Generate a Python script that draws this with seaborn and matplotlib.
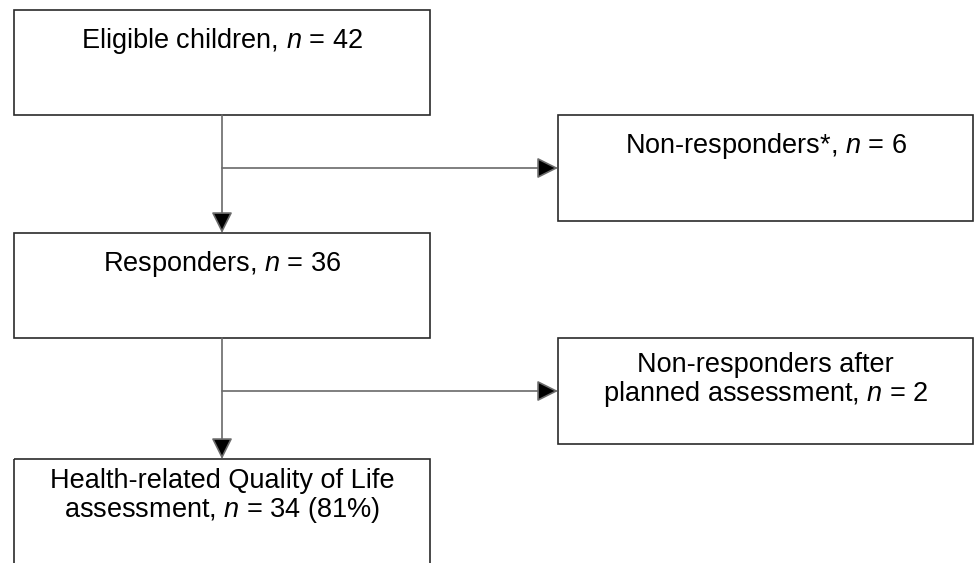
import seaborn as sns
import matplotlib.pyplot as plt
from matplotlib.patches import Rectangle

# ---------- DATA ----------
stages = [
    ["Eligible children"],
    ["Non-responders*"],
    ["Responders"],
    ["Non-responders after", "planned assessment"],
    ["Health-related Quality of Life", "assessment"],
]
counts = [42, 6, 36, 2, 34]
suffixes = ["", "", "", "", " (81%)"]

# ---------- LAYOUT (pixels, y down) ----------
# box: left, top, right, bottom
boxes = [
    (14, 10, 430, 115),
    (558, 115, 973, 221),
    (14, 233, 430, 338),
    (558, 338, 973, 444),
    (14, 459, 430, 600),
]
# baseline of each text line
baselines = [[48], [153], [271], [372, 401], [488, 517]]

# ---------- STYLE ----------
sns.set_style("white")
plt.rcParams["font.family"] = ["Liberation Sans", "DejaVu Sans"]
plt.rcParams["mathtext.fontset"] = "custom"
plt.rcParams["mathtext.rm"] = "Liberation Sans"
plt.rcParams["mathtext.it"] = "Liberation Sans:italic"

fig = plt.figure(figsize=(9.74, 5.63), dpi=100)
ax = fig.add_axes([0, 0, 1, 1])
ax.set_xlim(0, 974)
ax.set_ylim(563, 0)
ax.axis("off")

box_color = "#2a2a2a"
line_color = "#6a6a6a"

# ---------- BOXES + TEXT ----------
for i, (l, t, r, b) in enumerate(boxes):
    ax.add_patch(Rectangle((l, t), r - l, b - t, fill=False,
                           edgecolor=box_color, lw=1.2))
    lines = list(stages[i])
    lines[-1] = lines[-1] + ", $n$ = " + str(counts[i]) + suffixes[i]
    cx = (l + r) / 2
    for txt, y in zip(lines, baselines[i]):
        ax.text(cx, y, txt, ha="center", va="baseline", fontsize=19.5,
                color="black")


# ---------- CONNECTORS ----------
def arrow(x0, y0, x1, y1):
    ax.annotate("", xy=(x1, y1), xytext=(x0, y0),
                arrowprops=dict(arrowstyle="-|>,head_length=1.0,head_width=0.5",
                                mutation_scale=13, shrinkA=0, shrinkB=0,
                                fc="black", ec=line_color, lw=1.2))


stem_x = 222
for src, down, side in [(0, 2, 1), (2, 4, 3)]:
    top = boxes[src][3]
    bottom = boxes[down][1]
    branch_y = (boxes[side][1] + boxes[side][3]) / 2
    arrow(stem_x, top, stem_x, bottom)
    arrow(stem_x, branch_y, boxes[side][0], branch_y)

fig.savefig("out.png", dpi=100, facecolor="white")
